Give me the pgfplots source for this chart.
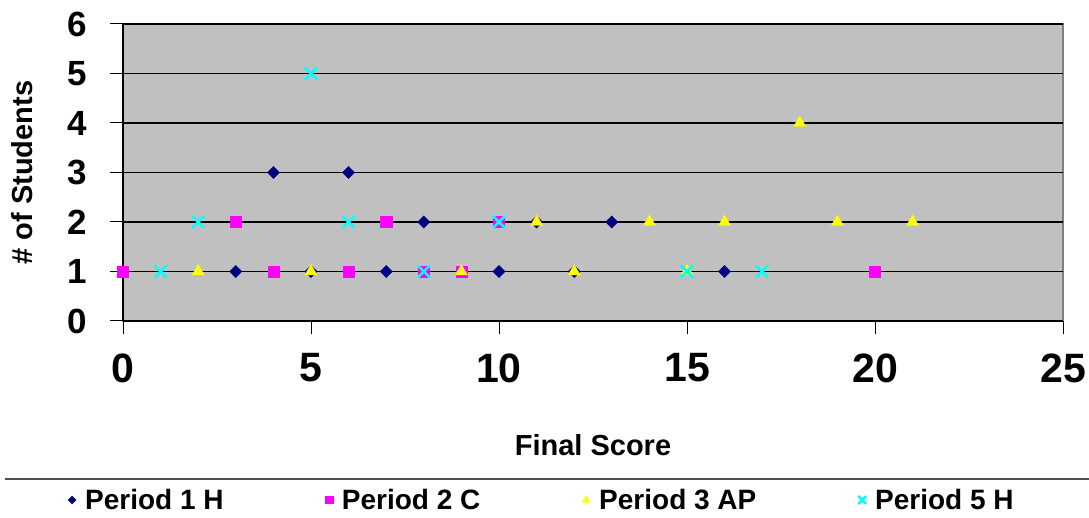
\documentclass[border=0pt]{standalone}
\usepackage{fontspec}
\setmainfont{Liberation Sans}
\usepackage{pgfplots}
\pgfplotsset{compat=1.18}
\definecolor{navyP}{HTML}{000080}
\definecolor{pinkP}{HTML}{FF00FF}
\definecolor{yelP}{HTML}{FFFF00}
\definecolor{cyP}{HTML}{00FFFF}
\definecolor{bgP}{HTML}{C0C0C0}
\begin{document}
\begin{tikzpicture}[x=1pt,y=1pt]
\useasboundingbox (0,0) rectangle (1089,518);
\begin{axis}[
  at={(123pt,197pt)}, anchor=south west,
  scale only axis, width=940pt, height=297pt,
  xmin=0, xmax=25, ymin=0, ymax=6,
  xtick={0,5,...,25}, ytick={0,...,6},
  axis lines=left, axis line style={-, black, line width=1.2pt},
  axis background/.style={fill=bgP, draw=gray, line width=1.5pt},
  ymajorgrids, grid style={black, line width=1.2pt},
  tick align=outside, major tick length=13pt, tick style={black, line width=1pt},
  /pgf/number format/assume math mode=true,
  yticklabel style={font=\bfseries\fontsize{35}{40}\selectfont, xshift=-20pt},
  xticklabel style={font=\bfseries\fontsize{41}{46}\selectfont, yshift=-16pt},
  clip=false,
  xlabel={Final Score},
  ylabel={\# of Students},
  xlabel style={font=\bfseries\fontsize{29}{34}\selectfont, at={(axis description cs:0.5,-0.4175)}, anchor=center},
  ylabel style={font=\bfseries\fontsize{29}{34}\selectfont, at={(axis description cs:-0.1074,0.5)}, anchor=center},
  legend columns=4,
  legend image post style={/tikz/every mark/.append style={scale=0.65}},
  legend style={draw=none, fill=none, font=\bfseries\fontsize{28}{31}\selectfont,
    at={(axis description cs:0.4457,-0.6027)}, anchor=center,
    /tikz/every odd column/.append style={column sep=7pt},
    /tikz/every even column/.append style={column sep=100pt}},
]
\addplot[only marks, mark=square*, mark size=4.3pt, mark options={rotate=45, fill=navyP, draw=navyP}] coordinates {
(3,1) (4,3) (5,1) (6,3) (7,1) (8,2) (10,1) (11,2) (12,1) (13,2) (16,1)};
\addlegendentry{Period 1 H}
\addplot[only marks, mark=square*, mark size=5.6pt, mark options={fill=pinkP, draw=pinkP}] coordinates {
(0,1) (3,2) (4,1) (6,1) (7,2) (8,1) (9,1) (10,2) (20,1)};
\addlegendentry{Period 2 C}
\addplot[only marks, mark=triangle*, mark size=7pt, mark options={fill=yelP, draw=yelP}] coordinates {
(2,1) (5,1) (9,1) (11,2) (12,1) (14,2) (15,1) (16,2) (18,4) (19,2) (21,2)};
\addlegendentry{Period 3 AP}
\addplot[only marks, mark=x, mark size=8.5pt, mark options={draw=cyP, line width=2.5pt}] coordinates {
(1,1) (2,2) (5,5) (6,2) (8,1) (10,2) (15,1) (17,1)};
\addlegendentry{Period 5 H}
\end{axis}
\draw[gray!60!black, line width=2pt] (5,39) -- (1089,39);
\end{tikzpicture}
\end{document}
